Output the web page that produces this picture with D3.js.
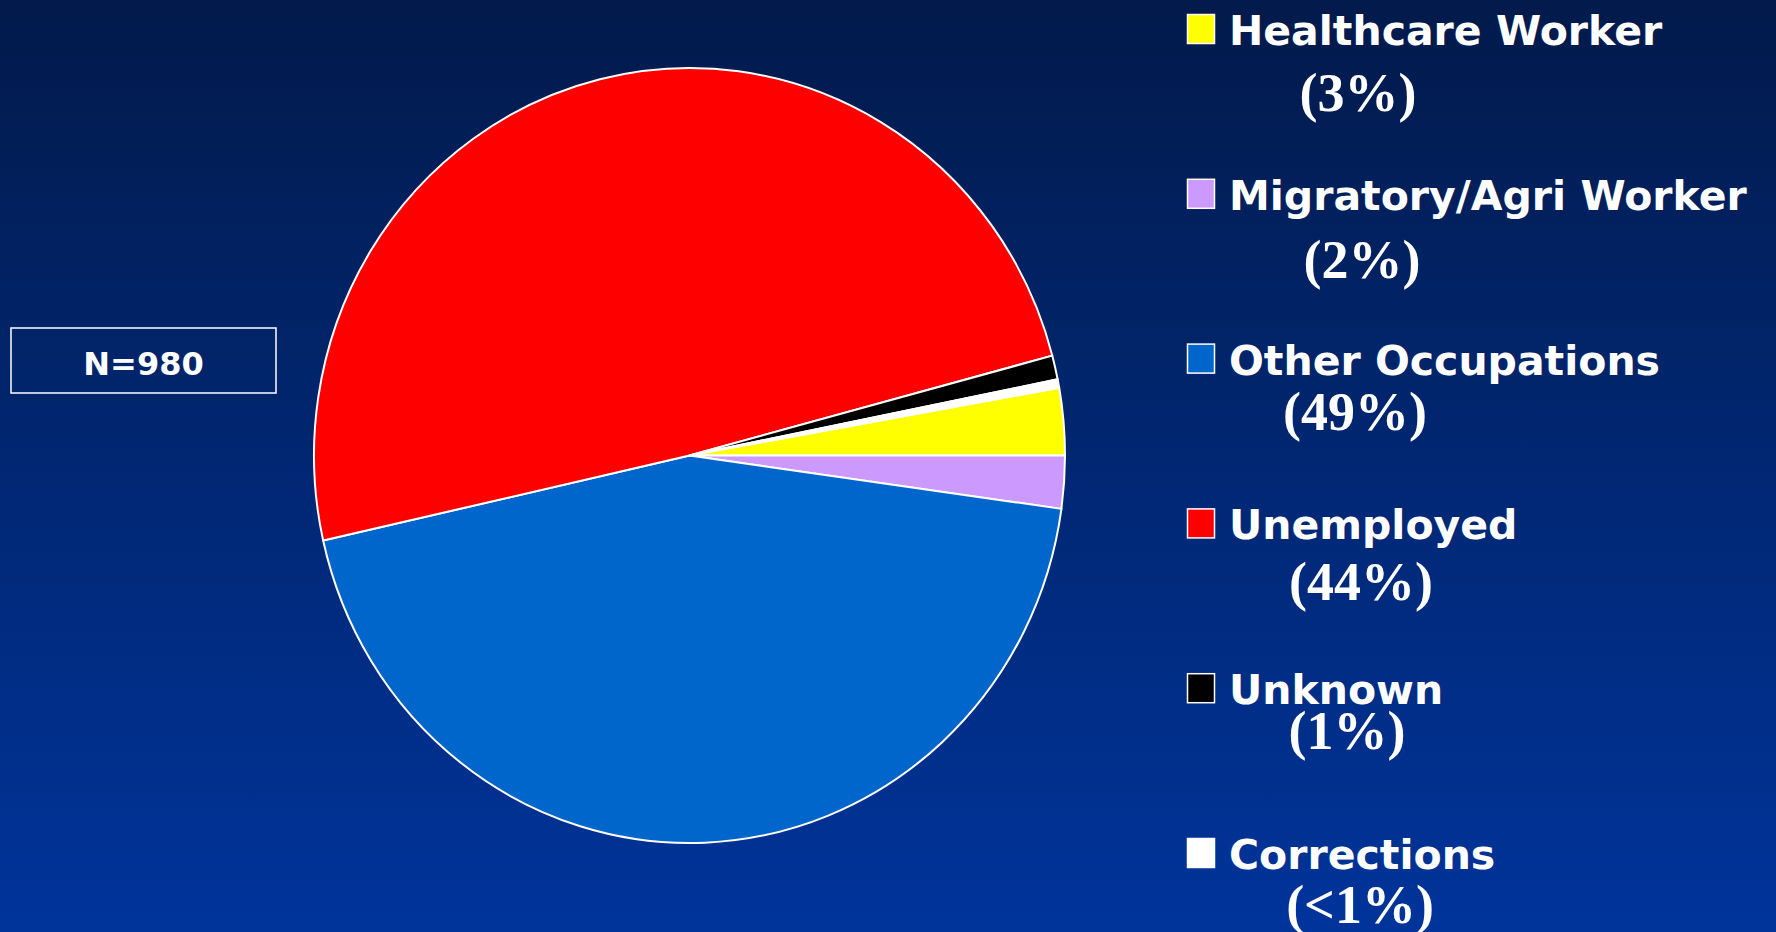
<!DOCTYPE html>
<html>
<head>
<meta charset="utf-8">
<script src="https://cdn.jsdelivr.net/npm/d3@7"></script>
<style>
  html, body { margin: 0; padding: 0; overflow: hidden; }
  svg { display: block; }
</style>
</head>
<body>
<svg id="chart" width="1776" height="932"></svg>
<script>
// legend / slice data
const categories = ["Healthcare Worker", "Migratory/Agri Worker", "Other Occupations", "Unemployed", "Unknown", "Corrections"];
const pctLabels = ["(3%)", "(2%)", "(49%)", "(44%)", "(1%)", "(<1%)"];
// slice sizes as drawn in the picture (share of the circle, %)
const sliceValues = [2.8, 2.2, 44.3, 49.4, 1.0, 0.35];
const colors = ["#ffff00", "#cc99ff", "#0066cc", "#ff0000", "#000000", "#ffffff"];
// order of slices going counterclockwise from 3 o'clock
const sliceOrder = ["Healthcare Worker", "Corrections", "Unknown", "Unemployed", "Other Occupations", "Migratory/Agri Worker"];
const sampleSize = "N=980";

const W = 1776, H = 932;
const svg = d3.select("#chart");

// background
const grad = svg.append("defs").append("linearGradient")
  .attr("id", "bg").attr("x1", 0).attr("y1", 0).attr("x2", 0).attr("y2", 1);
grad.append("stop").attr("offset", "0%").attr("stop-color", "#021a4b");
grad.append("stop").attr("offset", "100%").attr("stop-color", "#00349b");
svg.append("rect").attr("width", W).attr("height", H).attr("fill", "url(#bg)");

// pie (slightly taller than wide, like the original)
const cx = 689.5, cy = 455.5, rx = 375.5, ry = 387.5;
const data = categories.map((c, i) => ({cat: c, value: sliceValues[i], color: colors[i]}));

const pie = d3.pie()
  .value(d => d.value)
  .sort((a, b) => sliceOrder.indexOf(a.cat) - sliceOrder.indexOf(b.cat))
  .startAngle(Math.PI / 2)
  .endAngle(Math.PI / 2 - 2 * Math.PI);

const arc = d3.arc().innerRadius(0).outerRadius(ry);

const pieG = svg.append("g")
  .attr("transform", "translate(" + cx + "," + cy + ") scale(" + (rx / ry) + ",1)");

pieG.selectAll("path")
  .data(pie(data))
  .join("path")
  .attr("d", arc)
  .attr("fill", d => d.data.color)
  .attr("stroke", "#ffffff")
  .attr("stroke-width", 2)
  .attr("stroke-linejoin", "round")
  .attr("vector-effect", "non-scaling-stroke");

// N box
svg.append("rect")
  .attr("x", 11).attr("y", 328)
  .attr("width", 265).attr("height", 65)
  .attr("fill", "none")
  .attr("stroke", "#ffffff")
  .attr("stroke-width", 1.5);
svg.append("text")
  .attr("x", 143.5).attr("y", 375)
  .attr("text-anchor", "middle")
  .attr("font-family", "DejaVu Sans, sans-serif")
  .attr("font-weight", "bold")
  .attr("font-size", 32)
  .attr("fill", "#ffffff")
  .text(sampleSize);

// legend
const pctDy = [66, 68, 55, 61, 45, 54];
const pctX = [1358, 1362, 1355, 1361, 1347, 1360];
const rowY = d3.scaleLinear().domain([0, categories.length - 1]).range([14, 838]);

const rows = svg.append("g").selectAll("g")
  .data(data)
  .join("g")
  .attr("transform", (d, i) => "translate(0," + rowY(i) + ")");

rows.append("rect")
  .attr("x", 1187.5).attr("y", 0.5)
  .attr("width", 27).attr("height", 29)
  .attr("fill", d => d.color)
  .attr("stroke", "#ffffff")
  .attr("stroke-width", 1.5);

rows.append("text")
  .attr("x", 1229)
  .attr("y", 31)
  .attr("font-family", "DejaVu Sans, sans-serif")
  .attr("font-weight", "bold")
  .attr("font-size", 41)
  .attr("fill", "#ffffff")
  .text(d => d.cat);

rows.append("text")
  .attr("x", (d, i) => pctX[i])
  .attr("y", (d, i) => 31 + pctDy[i])
  .attr("text-anchor", "middle")
  .attr("font-family", "Liberation Serif, Times New Roman, serif")
  .attr("font-weight", "bold")
  .attr("font-size", 54)
  .attr("fill", "#ffffff")
  .text((d, i) => pctLabels[i]);
</script>
</body>
</html>
